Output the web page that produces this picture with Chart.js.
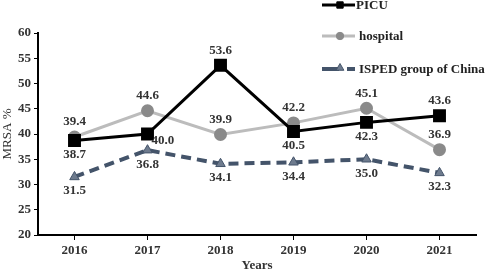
<!DOCTYPE html>
<html lang="en">
<head>
    <meta charset="UTF-8">
    <title>MRSA %</title>
    <script src="https://cdn.jsdelivr.net/npm/chart.js"></script>
    <style>
        html, body { margin: 0; padding: 0; background: white; }
        #wrap { width: 486px; height: 273px; position: relative; }
    </style>
</head>
<body>
    <div id="wrap"><canvas id="mrsaChart"></canvas></div>
    <script>
        const years = ['2016', '2017', '2018', '2019', '2020', '2021'];
        const picu = [38.7, 40.0, 53.6, 40.5, 42.3, 43.6];
        const hospital = [39.4, 44.6, 39.9, 42.2, 45.1, 36.9];
        const isped = [31.5, 36.8, 34.1, 34.4, 35.0, 32.3];

        const serif = "'Liberation Serif', 'Times New Roman', serif";

        // where each value label goes: 'above', 'below' or 'belowRight'
        const labelPos = [
            ['below', 'belowRight', 'above', 'below', 'below', 'above'],
            ['above', 'above', 'above', 'above', 'above', 'above'],
            ['below', 'below', 'below', 'below', 'below', 'below']
        ];

        const valueLabels = {
            id: 'valueLabels',
            afterDatasetsDraw(chart) {
                const ctx = chart.ctx;
                ctx.save();
                ctx.font = 'bold 13px ' + serif;
                ctx.fillStyle = '#333';
                ctx.textBaseline = 'middle';
                chart.data.datasets.forEach((ds, i) => {
                    chart.getDatasetMeta(i).data.forEach((pt, j) => {
                        let x = pt.x, y = pt.y;
                        ctx.textAlign = 'center';
                        const pos = labelPos[i][j];
                        if (pos === 'above') y -= 15;
                        else if (pos === 'below') y += 14;
                        else { x += 4; y += 7; ctx.textAlign = 'left'; }
                        ctx.fillText(ds.data[j].toFixed(1), x, y);
                    });
                });
                ctx.restore();
            }
        };

        // legend drawn by hand, top right, stacked over the plot
        const sideLegend = {
            id: 'sideLegend',
            afterDraw(chart) {
                const ctx = chart.ctx;
                const rows = [5, 36, 69];
                const markSize = [4.5, 3.7, 4.5];
                ctx.save();
                ctx.font = 'bold 13px ' + serif;
                ctx.textBaseline = 'middle';
                ctx.textAlign = 'left';
                chart.data.datasets.forEach((ds, i) => {
                    const y = rows[i];
                    ctx.strokeStyle = ds.borderColor;
                    ctx.lineWidth = ds.borderWidth;
                    ctx.setLineDash(i === 2 ? [17, 8, 8] : []);
                    ctx.beginPath();
                    ctx.moveTo(322, y);
                    ctx.lineTo(355, y);
                    ctx.stroke();
                    ctx.setLineDash([]);
                    ctx.fillStyle = ds.pointBackgroundColor;
                    ctx.strokeStyle = ds.pointBorderColor;
                    ctx.lineWidth = 1;
                    Chart.helpers.drawPoint(ctx, {
                        pointStyle: ds.pointStyle,
                        radius: markSize[i],
                        rotation: 0,
                        borderWidth: 1
                    }, 340, i === 2 ? y - 1 : y);
                    ctx.fillStyle = '#222';
                    ctx.fillText(ds.label, i === 0 ? 356 : 359, y + 1);
                });
                ctx.restore();
            }
        };

        new Chart(document.getElementById('mrsaChart'), {
            type: 'line',
            data: {
                labels: years,
                datasets: [
                    {
                        label: 'PICU',
                        data: picu,
                        borderColor: '#000',
                        borderWidth: 3,
                        pointStyle: 'rect',
                        pointRadius: 7,
                        pointBackgroundColor: '#000',
                        pointBorderColor: '#000',
                        tension: 0
                    },
                    {
                        label: 'hospital',
                        data: hospital,
                        borderColor: '#bcbcbc',
                        borderWidth: 3,
                        pointStyle: 'circle',
                        pointRadius: 5,
                        pointBackgroundColor: '#8a8a8a',
                        pointBorderColor: '#8a8a8a',
                        tension: 0
                    },
                    {
                        label: 'ISPED group of China',
                        data: isped,
                        borderColor: '#44546a',
                        borderWidth: 4,
                        borderDash: [10, 6],
                        pointStyle: 'triangle',
                        pointRadius: 5.5,
                        pointBorderWidth: 1,
                        pointBackgroundColor: '#6e7b8e',
                        pointBorderColor: '#44546a',
                        tension: 0
                    }
                ]
            },
            options: {
                responsive: true,
                maintainAspectRatio: false,
                animation: false,
                layout: { padding: { top: 33, right: 1, bottom: 0, left: 0 } },
                plugins: {
                    legend: { display: false },
                    tooltip: { enabled: false }
                },
                scales: {
                    x: {
                        offset: true,
                        afterFit: s => { s.height = 38; },
                        grid: { drawOnChartArea: false, drawTicks: true, tickLength: 5, color: '#000', offset: false },
                        border: { color: '#000', width: 2 },
                        ticks: { color: '#333', padding: 3, font: { family: serif, size: 13, weight: 'bold' } },
                        title: { display: true, text: 'Years', color: '#333', padding: { top: 0, bottom: 0 }, font: { family: serif, size: 13, weight: 'bold' } }
                    },
                    y: {
                        min: 20,
                        max: 60,
                        afterFit: s => { s.width = 38; },
                        ticks: { stepSize: 5, color: '#333', padding: 3, font: { family: serif, size: 13, weight: 'bold' } },
                        grid: { drawOnChartArea: false, drawTicks: true, tickLength: 4, color: '#000' },
                        border: { color: '#000', width: 2 },
                        title: { display: true, text: 'MRSA %', color: '#333', padding: 0, font: { family: serif, size: 13 } }
                    }
                }
            },
            plugins: [valueLabels, sideLegend]
        });
    </script>
</body>
</html>
